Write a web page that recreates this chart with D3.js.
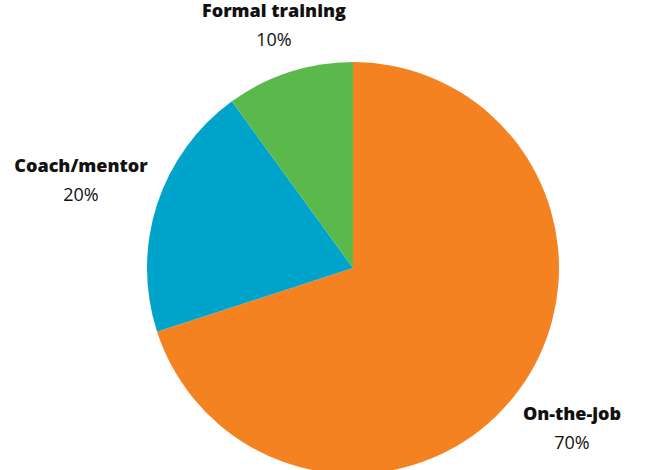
<!DOCTYPE html>
<html><head><meta charset="utf-8">
<script src="https://cdn.jsdelivr.net/npm/d3@7/dist/d3.min.js"></script>
<style>body{margin:0;background:#fff}svg{display:block}</style>
</head><body>
<script>
const categories = ["On-the-job", "Coach/mentor", "Formal training"];
const values = [70, 20, 10];
const labels = ["70%", "20%", "10%"];
const colors = ["#F58220", "#00A4CB", "#5BB94B"];
const labelPos = [[572, 420], [81, 172], [274, 17]];

const W = 658, H = 470, cx = 353, cy = 268, r = 206;
const svg = d3.select("body").append("svg").attr("width", W).attr("height", H);
const pie = d3.pie().sort(null).value(d => d)(values);
const arc = d3.arc().innerRadius(0).outerRadius(r);
const g = svg.append("g").attr("transform", `translate(${cx},${cy})`);
g.selectAll("path").data(pie).join("path")
  .attr("d", arc).attr("fill", (d, i) => colors[i]);

const t = svg.append("g").attr("font-family", "'Open Sans', sans-serif").attr("fill", "#111");
categories.forEach((c, i) => {
  const [x, y] = labelPos[i];
  t.append("text").attr("x", x).attr("y", y).attr("text-anchor", "middle")
    .attr("font-size", 18).attr("font-weight", 800).text(c);
  t.append("text").attr("x", x).attr("y", y + 29).attr("text-anchor", "middle")
    .attr("font-size", 18).attr("font-weight", 400).text(labels[i]);
});
</script>
</body></html>
